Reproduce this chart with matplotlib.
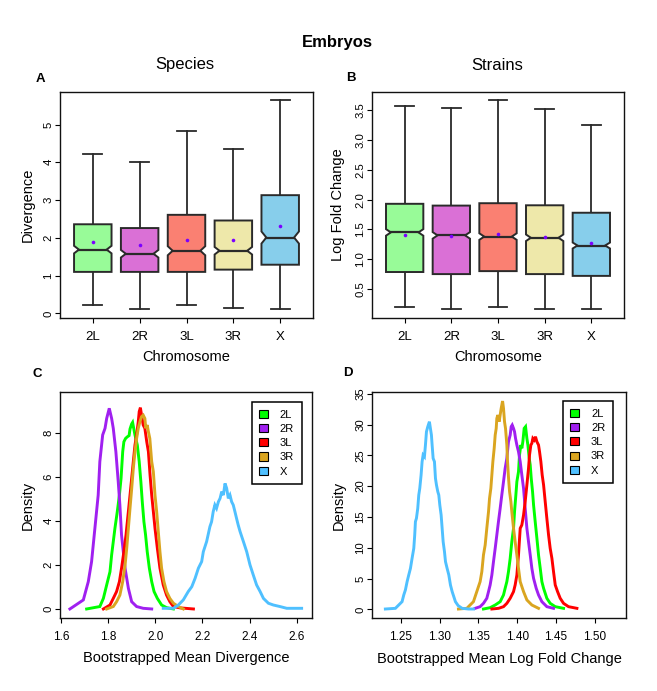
import matplotlib
matplotlib.use("Agg")
import matplotlib.pyplot as plt
from matplotlib.patches import Polygon, Patch

plt.rcParams["font.family"] = ["Liberation Sans", "DejaVu Sans"]

W, H = 657, 691

chromosomes = ["2L", "2R", "3L", "3R", "X"]
box_colors = ["#98FB98", "#DA70D6", "#FA8072", "#EEE8AA", "#87CEEB"]
line_colors = ["#00FF00", "#A020F0", "#FF0000", "#DAA520", "#4FC0FF"]

# ── Panel A: divergence between species (box stats) ──
div_low = [0.23, 0.11, 0.22, 0.15, 0.13]
div_q1 = [1.10, 1.10, 1.10, 1.16, 1.29]
div_med = [1.69, 1.58, 1.66, 1.66, 2.01]
div_q3 = [2.36, 2.26, 2.61, 2.46, 3.13]
div_high = [4.23, 4.02, 4.84, 4.35, 5.65]
div_mean = [1.90, 1.80, 1.95, 1.95, 2.32]
div_notch = [0.10, 0.10, 0.12, 0.10, 0.16]

# ── Panel B: log fold change between strains ──
lfc_low = [0.19, 0.16, 0.19, 0.16, 0.17]
lfc_q1 = [0.785, 0.75, 0.80, 0.75, 0.72]
lfc_med = [1.45, 1.40, 1.38, 1.36, 1.23]
lfc_q3 = [1.93, 1.90, 1.94, 1.905, 1.78]
lfc_high = [3.57, 3.54, 3.67, 3.53, 3.26]
lfc_mean = [1.41, 1.39, 1.42, 1.37, 1.28]
lfc_notch = [0.055, 0.055, 0.055, 0.055, 0.05]

# ── Panel C: bootstrapped mean divergence densities ──
c_2l_x = [1.709, 1.765, 1.780, 1.794, 1.808, 1.815, 1.829, 1.839, 1.848, 1.855,
          1.862, 1.867, 1.874, 1.881, 1.889, 1.893, 1.900, 1.904, 1.914, 1.924,
          1.932, 1.939, 1.945, 1.952, 1.959, 1.966, 1.975, 1.985, 1.995, 2.009,
          2.027, 2.048, 2.077]
c_2l_y = [0.00, 0.11, 0.48, 1.09, 1.69, 2.45, 3.66, 4.42, 5.17, 5.93,
          7.14, 7.59, 7.74, 7.81, 7.87, 8.17, 8.40, 8.47, 7.90, 7.44,
          6.69, 5.78, 4.87, 3.96, 3.36, 2.60, 1.85, 1.24, 0.79, 0.48,
          0.18, 0.06, 0.00]
c_2r_x = [1.638, 1.695, 1.716, 1.730, 1.744, 1.758, 1.765, 1.777, 1.787, 1.794,
          1.805, 1.815, 1.822, 1.833, 1.843, 1.850, 1.857, 1.872, 1.886, 1.900,
          1.921, 1.949, 1.985]
c_2r_y = [0.00, 0.41, 1.24, 2.15, 3.66, 5.17, 6.69, 7.90, 8.20, 8.65,
          9.11, 8.65, 8.20, 7.14, 5.78, 4.72, 3.36, 1.85, 0.94, 0.33,
          0.11, 0.03, 0.00]
c_3l_x = [1.780, 1.808, 1.822, 1.836, 1.848, 1.857, 1.867, 1.876, 1.886, 1.893,
          1.900, 1.907, 1.914, 1.921, 1.928, 1.932, 1.937, 1.942, 1.949, 1.956,
          1.964, 1.971, 1.978, 1.985, 1.992, 1.999, 2.009, 2.020, 2.034, 2.048,
          2.062, 2.077, 2.105, 2.162]
c_3l_y = [0.00, 0.18, 0.48, 0.79, 1.24, 1.85, 2.60, 3.36, 4.42, 5.17,
          5.93, 6.69, 7.44, 7.90, 8.50, 8.96, 9.14, 8.80, 8.35, 8.20,
          7.59, 7.14, 6.08, 5.17, 4.42, 3.66, 2.75, 1.85, 1.09, 0.63,
          0.33, 0.11, 0.05, 0.00]
c_3r_x = [1.794, 1.822, 1.836, 1.850, 1.862, 1.872, 1.879, 1.886, 1.893, 1.900,
          1.907, 1.914, 1.921, 1.928, 1.935, 1.942, 1.949, 1.956, 1.960, 1.966,
          1.971, 1.977, 1.985, 1.992, 1.999, 2.006, 2.013, 2.020, 2.027, 2.037,
          2.048, 2.062, 2.077, 2.098, 2.119]
c_3r_y = [0.00, 0.11, 0.33, 0.63, 1.24, 1.99, 2.75, 3.66, 4.57, 5.45,
          6.38, 7.14, 7.74, 8.20, 8.50, 8.73, 8.80, 8.65, 8.20, 8.35,
          8.05, 7.74, 6.69, 6.23, 5.17, 4.42, 3.51, 2.60, 1.85, 1.24,
          0.79, 0.48, 0.26, 0.11, 0.00]
c_x_x = [2.034, 2.077, 2.098, 2.119, 2.140, 2.155, 2.169, 2.183, 2.197, 2.204,
         2.218, 2.232, 2.239, 2.246, 2.253, 2.260, 2.268, 2.275, 2.282, 2.289,
         2.296, 2.303, 2.310, 2.317, 2.324, 2.331, 2.338, 2.345, 2.352, 2.360,
         2.374, 2.388, 2.402, 2.416, 2.430, 2.445, 2.459, 2.480, 2.501, 2.529,
         2.558, 2.621]
c_x_y = [0.03, 0.03, 0.18, 0.41, 0.79, 1.01, 1.39, 1.85, 2.15, 2.60,
         3.06, 3.74, 3.96, 4.42, 4.72, 4.57, 4.87, 5.02, 5.33, 5.17,
         5.70, 5.48, 5.02, 5.17, 4.87, 4.72, 4.42, 4.11, 3.81, 3.51,
         3.06, 2.60, 2.00, 1.54, 1.09, 0.79, 0.48, 0.26, 0.18, 0.11,
         0.03, 0.03]

# ── Panel D: bootstrapped mean log fold change densities ──
d_2l_x = [1.3565, 1.3651, 1.3716, 1.3780, 1.3823, 1.3844, 1.3866, 1.3887, 1.3909, 1.3930,
          1.3952, 1.3965, 1.3982, 1.3995, 1.4016, 1.4029, 1.4046, 1.4059, 1.4072, 1.4089,
          1.4107, 1.4124, 1.4137, 1.4154, 1.4167, 1.4180, 1.4197, 1.4210, 1.4231, 1.4253,
          1.4274, 1.4296, 1.4317, 1.4339, 1.4381, 1.4424, 1.4489, 1.4596]
d_2l_y = [0.05, 0.27, 0.70, 1.24, 2.33, 3.41, 4.49, 6.11, 8.28, 10.98,
          13.15, 15.85, 18.55, 20.72, 22.34, 25.05, 26.67, 26.13, 27.21, 29.37,
          29.65, 27.75, 26.67, 24.51, 23.43, 21.26, 19.10, 16.93, 14.23, 11.52,
          8.82, 6.65, 4.49, 3.41, 1.79, 0.97, 0.43, 0.16]
d_2r_x = [1.3458, 1.3522, 1.3565, 1.3608, 1.3630, 1.3651, 1.3673, 1.3694, 1.3716, 1.3737,
          1.3758, 1.3780, 1.3801, 1.3823, 1.3844, 1.3866, 1.3887, 1.3909, 1.3922, 1.3935,
          1.3952, 1.3965, 1.3978, 1.3995, 1.4016, 1.4038, 1.4059, 1.4081, 1.4102, 1.4124,
          1.4145, 1.4167, 1.4188, 1.4210, 1.4244, 1.4274, 1.4317, 1.4381, 1.4467]
d_2r_y = [0.16, 0.43, 0.97, 1.79, 2.87, 3.95, 5.57, 7.74, 9.90, 12.07,
          14.23, 16.39, 18.55, 20.72, 22.88, 24.51, 27.21, 28.29, 29.65, 29.92,
          29.37, 28.83, 27.75, 26.67, 25.59, 23.97, 21.80, 19.64, 16.39, 13.15,
          10.98, 8.82, 6.65, 5.03, 3.41, 2.33, 1.24, 0.43, 0.16]
d_3l_x = [1.3673, 1.3759, 1.3823, 1.3866, 1.3909, 1.3952, 1.3973, 1.3995, 1.4016, 1.4038,
          1.4059, 1.4081, 1.4102, 1.4124, 1.4145, 1.4158, 1.4175, 1.4188, 1.4201, 1.4218,
          1.4235, 1.4253, 1.4274, 1.4287, 1.4304, 1.4321, 1.4339, 1.4360, 1.4381, 1.4403,
          1.4424, 1.4446, 1.4467, 1.4489, 1.4519, 1.4553, 1.4596, 1.4660, 1.4768]
d_3l_y = [0.05, 0.16, 0.43, 0.97, 1.79, 2.87, 3.95, 5.57, 8.82, 13.15,
          13.69, 15.31, 17.47, 20.18, 22.88, 25.05, 26.67, 26.94, 27.75, 27.48,
          28.02, 27.21, 26.67, 25.59, 23.97, 21.80, 20.18, 17.47, 14.77, 12.07,
          9.90, 8.28, 6.11, 3.95, 2.87, 1.79, 0.97, 0.43, 0.16]
d_3r_x = [1.3243, 1.3351, 1.3393, 1.3436, 1.3479, 1.3522, 1.3544, 1.3565, 1.3587, 1.3608,
          1.3630, 1.3643, 1.3660, 1.3673, 1.3686, 1.3703, 1.3716, 1.3729, 1.3737, 1.3750,
          1.3767, 1.3780, 1.3793, 1.3811, 1.3823, 1.3836, 1.3849, 1.3866, 1.3875, 1.3888,
          1.3901, 1.3918, 1.3930, 1.3952, 1.3973, 1.3995, 1.4016, 1.4038, 1.4081, 1.4124,
          1.4188, 1.4274]
d_3r_y = [0.05, 0.16, 0.70, 1.24, 2.87, 4.49, 6.11, 8.82, 10.44, 13.15,
          15.85, 18.01, 19.64, 21.80, 23.97, 26.13, 28.29, 29.37, 30.99, 31.54,
          30.46, 31.54, 32.62, 33.81, 32.62, 30.46, 29.37, 26.67, 23.97, 21.26,
          19.10, 17.47, 15.85, 13.15, 10.98, 8.82, 6.65, 4.49, 2.87, 1.52,
          0.70, 0.16]
d_x_x = [1.2302, 1.2431, 1.2474, 1.2517, 1.2539, 1.2560, 1.2582, 1.2603, 1.2625, 1.2646,
         1.2668, 1.2680, 1.2689, 1.2702, 1.2719, 1.2732, 1.2745, 1.2762, 1.2775, 1.2788,
         1.2805, 1.2818, 1.2831, 1.2848, 1.2869, 1.2882, 1.2895, 1.2904, 1.2917, 1.2934,
         1.2947, 1.2960, 1.2977, 1.2990, 1.3003, 1.3020, 1.3033, 1.3046, 1.3063, 1.3076,
         1.3097, 1.3119, 1.3140, 1.3162, 1.3183, 1.3204, 1.3239, 1.3290, 1.3372, 1.3436]
d_x_y = [0.05, 0.16, 0.70, 1.24, 2.33, 3.14, 4.49, 5.57, 6.65, 8.28,
         9.90, 12.07, 14.23, 14.77, 16.39, 18.55, 19.64, 21.80, 23.97, 25.05,
         24.78, 26.67, 28.83, 29.65, 30.46, 29.37, 28.29, 26.67, 24.51, 23.97,
         21.26, 20.18, 19.10, 18.55, 16.93, 15.31, 13.15, 10.98, 9.36, 7.74,
         6.65, 5.57, 3.95, 2.87, 2.06, 1.24, 0.60, 0.16, 0.05, 0.05]

EDGE = "#2a2a2a"
MEAN_COLOR = "#7B00FF"


def px_axes(fig, left, top, right, bottom):
    return fig.add_axes([left / W, 1 - bottom / H, (right - left) / W, (bottom - top) / H])


def px_text(fig, x, y, s, **kw):
    kw.setdefault("ha", "center")
    kw.setdefault("va", "center")
    fig.text(x / W, 1 - y / H, s, **kw)


def style_axes(ax, xsize=8.5):
    for sp in ax.spines.values():
        sp.set_linewidth(1.0)
        sp.set_color("#111111")
    ax.tick_params(axis="x", length=3.6, width=0.8, pad=5.5, labelsize=xsize)
    ax.tick_params(axis="y", length=3.6, width=0.8, pad=1.2, labelsize=8.2,
                   labelrotation=90)
    for lab in ax.get_yticklabels():
        lab.set_va("center")


def draw_boxes(ax, low, q1, med, q3, high, mean, notch):
    half = 0.4
    pinch = 0.74 * half
    for i, col in enumerate(box_colors):
        x = i + 1
        verts = [(x - half, q1[i]), (x + half, q1[i]),
                 (x + half, med[i] - notch[i]), (x + pinch, med[i]),
                 (x + half, med[i] + notch[i]), (x + half, q3[i]),
                 (x - half, q3[i]), (x - half, med[i] + notch[i]),
                 (x - pinch, med[i]), (x - half, med[i] - notch[i])]
        ax.add_patch(Polygon(verts, closed=True, facecolor=col, edgecolor=EDGE,
                             lw=1.4, zorder=2))
        ax.plot([x - pinch, x + pinch], [med[i], med[i]], color=EDGE, lw=1.6, zorder=3)
        ax.plot([x, x], [q3[i], high[i]], color=EDGE, lw=1.3, zorder=1)
        ax.plot([x, x], [low[i], q1[i]], color=EDGE, lw=1.3, zorder=1)
        ax.plot([x - 0.2, x + 0.2], [high[i], high[i]], color=EDGE, lw=1.3)
        ax.plot([x - 0.2, x + 0.2], [low[i], low[i]], color=EDGE, lw=1.3)
        ax.plot(x, mean[i], "o", color=MEAN_COLOR, ms=2.6, mec="none", zorder=4)
    ax.set_xlim(0.3, 5.7)
    ax.set_xticks(range(1, 6))
    ax.set_xticklabels(chromosomes)


def add_legend(ax, anchor):
    handles = [Patch(facecolor=c, edgecolor="black", lw=0.8) for c in line_colors]
    leg = ax.legend(handles, chromosomes, loc="upper right", bbox_to_anchor=anchor,
                    fontsize=8, frameon=True, fancybox=False, framealpha=1,
                    edgecolor="black", handlelength=0.75, handleheight=0.75,
                    handletextpad=1.1, labelspacing=0.38, borderpad=0.7,
                    borderaxespad=0)
    leg.get_frame().set_linewidth(1.1)


fig = plt.figure(figsize=(W / 100, H / 100), dpi=100)

# A
ax_a = px_axes(fig, 60, 92, 313, 318)
draw_boxes(ax_a, div_low, div_q1, div_med, div_q3, div_high, div_mean, div_notch)
ax_a.set_ylim(-0.12, 5.86)
ax_a.set_yticks([0, 1, 2, 3, 4, 5])
style_axes(ax_a, xsize=9.5)

# B
ax_b = px_axes(fig, 372, 92, 624, 318)
draw_boxes(ax_b, lfc_low, lfc_q1, lfc_med, lfc_q3, lfc_high, lfc_mean, lfc_notch)
ax_b.set_ylim(0.013, 3.807)
ax_b.set_yticks([0.5, 1.0, 1.5, 2.0, 2.5, 3.0, 3.5])
ax_b.set_yticklabels(["0.5", "1.0", "1.5", "2.0", "2.5", "3.0", "3.5"])
style_axes(ax_b, xsize=9.5)

# C
ax_c = px_axes(fig, 60, 392, 312, 618)
c_series = [(c_2l_x, c_2l_y), (c_2r_x, c_2r_y), (c_3l_x, c_3l_y),
            (c_3r_x, c_3r_y), (c_x_x, c_x_y)]
for (xs, ys), col in zip(c_series, line_colors):
    ax_c.plot(xs, ys, color=col, lw=2.1, solid_joinstyle="miter")
ax_c.set_xlim(1.596, 2.665)
ax_c.set_ylim(-0.41, 9.85)
ax_c.set_xticks([1.6, 1.8, 2.0, 2.2, 2.4, 2.6])
ax_c.set_xticklabels(["1.6", "1.8", "2.0", "2.2", "2.4", "2.6"])
ax_c.set_yticks([0, 2, 4, 6, 8])
style_axes(ax_c)
add_legend(ax_c, (0.960, 0.956))

# D
ax_d = px_axes(fig, 372, 392, 626, 618)
d_series = [(d_2l_x, d_2l_y), (d_2r_x, d_2r_y), (d_3l_x, d_3l_y),
            (d_3r_x, d_3r_y), (d_x_x, d_x_y)]
for (xs, ys), col in zip(d_series, line_colors):
    ax_d.plot(xs, ys, color=col, lw=2.1, solid_joinstyle="miter")
ax_d.set_xlim(1.213, 1.540)
ax_d.set_ylim(-1.41, 35.28)
ax_d.set_xticks([1.25, 1.30, 1.35, 1.40, 1.45, 1.50])
ax_d.set_xticklabels(["1.25", "1.30", "1.35", "1.40", "1.45", "1.50"])
ax_d.set_yticks([0, 5, 10, 15, 20, 25, 30, 35])
style_axes(ax_d)
add_legend(ax_d, (0.949, 0.960))

# titles, panel letters, axis labels
px_text(fig, 337.5, 42, "Embryos", fontsize=12, fontweight="bold")
px_text(fig, 185, 65, "Species", fontsize=12)
px_text(fig, 497, 65, "Strains", fontsize=12)
for x, y, s in [(40, 79, "A"), (351, 78, "B"), (37, 374, "C"), (348, 373, "D")]:
    px_text(fig, x, y, s, fontsize=9.5, fontweight="bold")

px_text(fig, 28, 205, "Divergence", fontsize=10.5, rotation=90)
px_text(fig, 186.5, 357, "Chromosome", fontsize=10.5)
px_text(fig, 338, 205, "Log Fold Change", fontsize=10.5, rotation=90)
px_text(fig, 498, 357, "Chromosome", fontsize=10.5)
px_text(fig, 28, 505, "Density", fontsize=10.5, rotation=90)
px_text(fig, 186, 658, "Bootstrapped Mean Divergence", fontsize=10.5)
px_text(fig, 339, 505, "Density", fontsize=10.5, rotation=90)
px_text(fig, 499, 659, "Bootstrapped Mean Log Fold Change", fontsize=10.5)

fig.savefig("out.png", dpi=100)
